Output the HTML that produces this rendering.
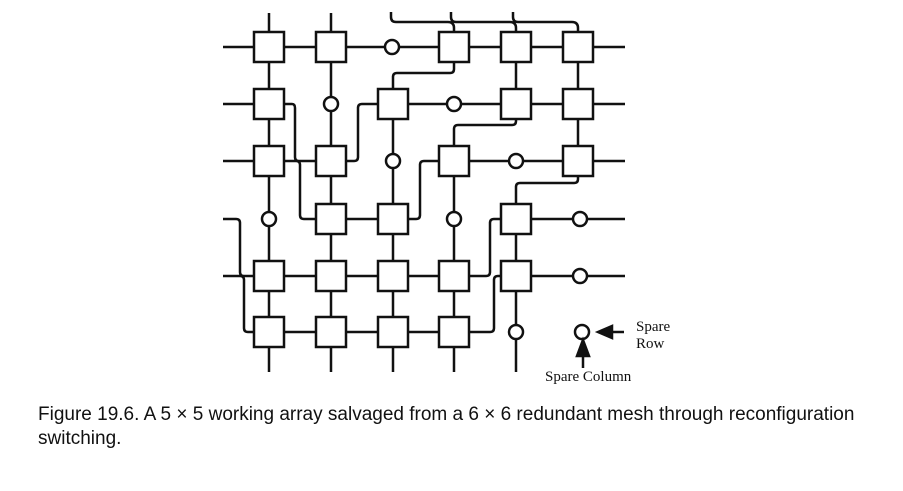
<!DOCTYPE html>
<html><head><meta charset="utf-8"><style>
html,body{margin:0;padding:0;background:#fff;}
body{width:903px;height:491px;position:relative;overflow:hidden;}
.cap{position:absolute;left:38px;top:403px;font-family:"Liberation Sans",sans-serif;font-size:19px;line-height:24px;color:#111;white-space:nowrap;}
</style></head><body>
<svg width="903" height="491" style="position:absolute;left:0;top:0" xmlns="http://www.w3.org/2000/svg">
<g fill="none" stroke="#111" stroke-width="2.5" stroke-linejoin="round">
<path d="M223 47H625"/>
<path d="M223 104H254 M284 104H292Q295 104 295 108V157Q295 161 299 161H316"/>
<path d="M346 161H354Q358 161 358 157V108Q358 104 362 104H625"/>
<path d="M223 161H254 M284 161H296Q300 161 300 165V215Q300 219 304 219H316"/>
<path d="M408 219H416Q420 219 420 215V165Q420 161 424 161H625"/>
<path d="M223 219H236Q240 219 240 223V272Q240 276 244 276H254"/>
<path d="M223 276H240Q244 276 244 280V328Q244 332 248 332H254"/>
<path d="M331 219H393"/>
<path d="M284 276H454 M469 276H486Q490 276 490 272V223Q490 219 494 219H501 M516 219H625"/>
<path d="M284 332H454 M469 332H490Q494 332 494 328V280Q494 276 498 276H501 M516 276H625"/>
<path d="M269 13V372"/>
<path d="M331 13V372"/>
<path d="M454 62V69Q454 73 450 73H397Q393 73 393 77V372"/>
<path d="M516 119V121Q516 125 512 125H458Q454 125 454 129V372"/>
<path d="M578 176V179Q578 183 574 183H520Q516 183 516 187V372"/>
<path d="M516 47V104 M578 47V161"/>
<path d="M391 12V17Q391 22 396 22H448Q454 22 454 28V32"/>
<path d="M451 12V17Q451 22 456 22H510Q516 22 516 28V32"/>
<path d="M513 12V17Q513 22 518 22H572Q578 22 578 28V32"/>
</g>
<g fill="#fff" stroke="#111" stroke-width="2.5">
<rect x="254" y="32" width="30" height="30"/><rect x="316" y="32" width="30" height="30"/>
<rect x="439" y="32" width="30" height="30"/><rect x="501" y="32" width="30" height="30"/><rect x="563" y="32" width="30" height="30"/>
<rect x="254" y="89" width="30" height="30"/><rect x="378" y="89" width="30" height="30"/>
<rect x="501" y="89" width="30" height="30"/><rect x="563" y="89" width="30" height="30"/>
<rect x="254" y="146" width="30" height="30"/><rect x="316" y="146" width="30" height="30"/>
<rect x="439" y="146" width="30" height="30"/><rect x="563" y="146" width="30" height="30"/>
<rect x="316" y="204" width="30" height="30"/><rect x="378" y="204" width="30" height="30"/><rect x="501" y="204" width="30" height="30"/>
<rect x="254" y="261" width="30" height="30"/><rect x="316" y="261" width="30" height="30"/><rect x="378" y="261" width="30" height="30"/><rect x="439" y="261" width="30" height="30"/><rect x="501" y="261" width="30" height="30"/>
<rect x="254" y="317" width="30" height="30"/><rect x="316" y="317" width="30" height="30"/><rect x="378" y="317" width="30" height="30"/><rect x="439" y="317" width="30" height="30"/>
<circle cx="392" cy="47" r="7"/><circle cx="331" cy="104" r="7"/><circle cx="454" cy="104" r="7"/>
<circle cx="393" cy="161" r="7"/><circle cx="516" cy="161" r="7"/>
<circle cx="269" cy="219" r="7"/><circle cx="454" cy="219" r="7"/><circle cx="580" cy="219" r="7"/>
<circle cx="580" cy="276" r="7"/><circle cx="516" cy="332" r="7"/>
<circle cx="582" cy="332" r="7"/>
</g>
<g stroke="#111" stroke-width="2.5" fill="#111">
<path d="M602 332H624" fill="none"/><path d="M598 332L612 326V338Z"/>
<path d="M583 344V368" fill="none"/><path d="M583 340L577 356H589Z"/>
</g>
<g font-family="Liberation Serif,serif" font-size="15" fill="#111">
<text x="636" y="331">Spare</text><text x="636" y="348">Row</text>
<text x="545" y="381">Spare Column</text>
</g>
</svg>
<div class="cap">Figure 19.6. A 5 × 5 working array salvaged from a 6 × 6 redundant mesh through reconfiguration<br>switching.</div>
</body></html>
